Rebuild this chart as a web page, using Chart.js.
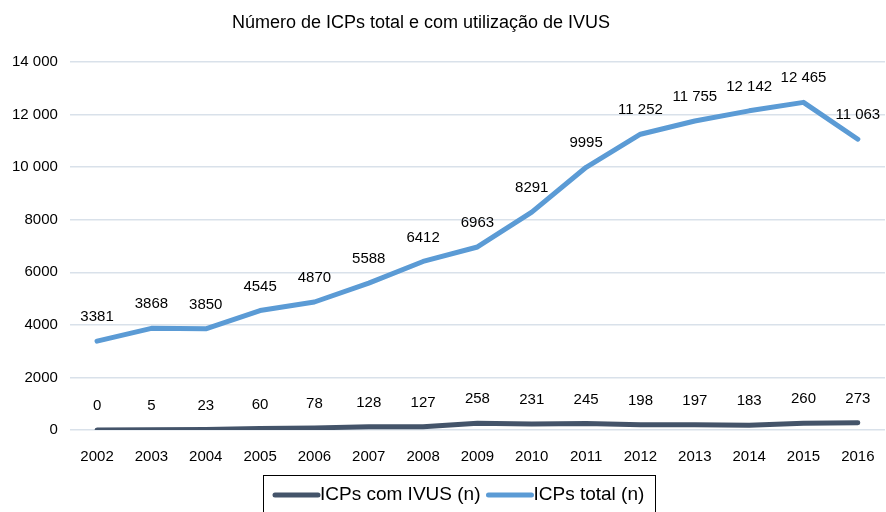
<!DOCTYPE html>
<html>
<head>
<meta charset="utf-8">
<script src="https://cdn.jsdelivr.net/npm/chart.js@4"></script>
<style>
  body { margin: 0; background: #fff; }
  #wrap { width: 886px; height: 512px; }
</style>
</head>
<body>
<div id="wrap"><canvas id="grafico"></canvas></div>
<script>
// dados
const anos = ['2002', '2003', '2004', '2005', '2006', '2007', '2008', '2009', '2010', '2011', '2012', '2013', '2014', '2015', '2016'];
const icpsIvus = [0, 5, 23, 60, 78, 128, 127, 258, 231, 245, 198, 197, 183, 260, 273];
const icpsTotal = [3381, 3868, 3850, 4545, 4870, 5588, 6412, 6963, 8291, 9995, 11252, 11755, 12142, 12465, 11063];
const titulo = 'Número de ICPs total e com utilização de IVUS';

const fonte = '"Liberation Sans", Arial, Helvetica, sans-serif';

// formato pt: espaço só para 5+ dígitos
function formatar(v) {
    if (v >= 10000) {
        return String(v).replace(/\B(?=(\d{3})+(?!\d))/g, ' ');
    }
    return String(v);
}

// rótulos em cima dos pontos + título + legenda com caixa
const extras = {
    id: 'extras',
    afterDatasetsDraw(chart) {
        const ctx = chart.ctx;
        ctx.save();
        ctx.fillStyle = '#000';
        ctx.font = '15px ' + fonte;
        ctx.textAlign = 'center';
        ctx.textBaseline = 'middle';
        chart.data.datasets.forEach((ds, i) => {
            chart.getDatasetMeta(i).data.forEach((pt, j) => {
                ctx.fillText(formatar(ds.data[j]), pt.x, pt.y - 24);
            });
        });
        ctx.restore();
    },
    afterDraw(chart) {
        const ctx = chart.ctx;
        ctx.save();
        ctx.fillStyle = '#000';
        ctx.font = '18px ' + fonte;
        ctx.textAlign = 'center';
        ctx.textBaseline = 'middle';
        ctx.fillText(titulo, 421, 23);

        // legenda
        ctx.font = '19px ' + fonte;
        ctx.textAlign = 'left';
        const yLeg = 495;
        let x = 275;
        let fim = x;
        chart.data.datasets.forEach(ds => {
            ctx.strokeStyle = ds.borderColor;
            ctx.lineWidth = 5;
            ctx.lineCap = 'round';
            ctx.beginPath();
            ctx.moveTo(x, yLeg);
            ctx.lineTo(x + 43, yLeg);
            ctx.stroke();
            ctx.fillStyle = '#000';
            ctx.fillText(ds.label, x + 45, yLeg);
            fim = x + 45 + ctx.measureText(ds.label).width;
            x = fim + 8;
        });
        ctx.strokeStyle = '#000';
        ctx.lineWidth = 1;
        ctx.lineCap = 'butt';
        ctx.strokeRect(263.5, 475.5, Math.round(fim + 11 - 263), 60);
        ctx.restore();
    }
};

const grafico = new Chart(document.getElementById('grafico'), {
    type: 'line',
    data: {
        labels: anos,
        datasets: [
            {
                label: 'ICPs com IVUS (n)',
                data: icpsIvus,
                borderColor: '#44546a',
                backgroundColor: '#44546a',
                borderWidth: 5,
                pointRadius: 0,
                borderCapStyle: 'round',
                borderJoinStyle: 'round',
                tension: 0
            },
            {
                label: 'ICPs total (n)',
                data: icpsTotal,
                borderColor: '#5b9bd5',
                backgroundColor: '#5b9bd5',
                borderWidth: 5,
                pointRadius: 0,
                borderCapStyle: 'round',
                borderJoinStyle: 'round',
                tension: 0
            }
        ]
    },
    plugins: [extras],
    options: {
        responsive: true,
        maintainAspectRatio: false,
        animation: false,
        layout: {
            padding: { top: 62, left: 0, right: 1, bottom: 36 }
        },
        scales: {
            x: {
                offset: true,
                grid: { display: false },
                border: { display: false },
                ticks: {
                    color: '#000',
                    font: { family: fonte, size: 15 },
                    padding: 10,
                    maxRotation: 0
                }
            },
            y: {
                min: 0,
                max: 14000,
                grid: { color: '#d9e1ea', lineWidth: 1.5, drawTicks: false },
                border: { display: false },
                ticks: {
                    stepSize: 2000,
                    color: '#000',
                    font: { family: fonte, size: 15 },
                    padding: 12,
                    callback: v => formatar(v)
                }
            }
        },
        plugins: {
            title: { display: false },
            tooltip: { enabled: false },
            legend: { display: false }
        }
    }
});
</script>
</body>
</html>
